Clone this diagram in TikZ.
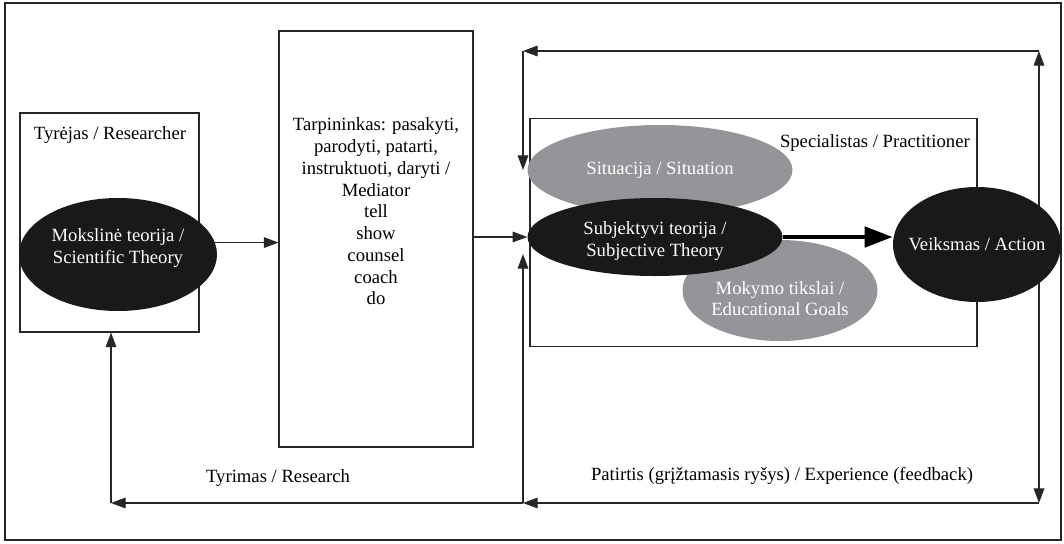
\documentclass[tikz,border=0pt]{standalone}
\usepackage{fontspec}
\setmainfont{Liberation Serif}
\usepackage{xcolor}
\usetikzlibrary{arrows.meta, positioning, shapes.geometric}
\definecolor{ellgray}{HTML}{939598}
\pgfdeclarelayer{background}
\pgfsetlayers{background,main}

\begin{document}
\begin{tikzpicture}[x=0.75pt, y=-0.75pt,
        every node/.style={font=\fontsize{14}{16.3}\selectfont, align=center, inner sep=0pt},
        box/.style={draw=black!85, line width=0.8pt, rectangle},
        darkell/.style={ellipse, fill=black!90},
        lightell/.style={ellipse, fill=ellgray},
        arr/.style={draw=black!85, line width=0.8pt, -{Triangle[length=11pt, width=8pt]}},
        bigarr/.style={draw=black, line width=3.4pt, -{Triangle[length=21pt, width=15pt]}}
        ]
    \useasboundingbox (0,0) rectangle (1064,543);
    \draw[black!85, line width=0.8pt] (5,3) rectangle (1061,540);

    \node[box, minimum width=134.25pt, minimum height=164.25pt] (res) at (109.5,222.5) {};
    \node (restxt) at (110,135) {Tyrėjas / Researcher};
    \node[darkell, minimum width=148.5pt, minimum height=84.75pt,
        label={[white, yshift=5pt]center:Mokslinė teorija /\\Scientific Theory}] (sci) at (118,254.5) {};

    \node[box, minimum width=145.5pt, minimum height=312pt] (med) at (376,239) {};
    \node (medtxt) at (376,211.5) {Tarpininkas: pasakyti,\\parodyti, patarti,\\instruktuoti, daryti /\\Mediator\\tell\\show\\counsel\\coach\\do};

    \node[box, minimum width=335.25pt, minimum height=171pt] (prac) at (753.5,232.5) {};
    \node[anchor=east] (practxt) at (970,143) {Specialistas / Practitioner};

    \node[lightell, minimum width=198.75pt, minimum height=67.5pt,
        label={[white]center:Situacija / Situation}] (sit) at (660,170) {};
    \node[lightell, minimum width=146.25pt, minimum height=75.75pt,
        label={[white, yshift=-6pt]center:Mokymo tikslai /\\Educational Goals}] (goals) at (780,290.5) {};
    \node[darkell, minimum width=191.25pt, minimum height=58.5pt,
        label={[white, yshift=-3pt]center:Subjektyvi teorija /\\Subjective Theory}] (subj) at (655,237) {};
    \node[darkell, minimum width=126pt, minimum height=86.25pt,
        label={[white]center:Veiksmas / Action}] (act) at (977,244.5) {};

    \coordinate (tr) at (1039,51);
    \coordinate (tl) at (523,51);
    \coordinate (br) at (1039,503);
    \coordinate (bm) at (523,503);
    \coordinate (bl) at (111,503);
    \coordinate (subjin) at (523,254);

    \draw[arr] (sci.7) -- (sci.7 -| med.west);
    \draw[arr] (med.east |- subj.west) -- (subj.west);
    \draw[bigarr] (subj.east) -- (subj.east -| act.west);
    \begin{pgfonlayer}{background}
        \draw[arr] (act.center -| tr) -- (tr);
        \draw[arr] (act.center -| br) -- (br);
    \end{pgfonlayer}
    \draw[arr] (tr) -- (tl);
    \draw[arr] (tl) -- (tl |- sit.west);
    \draw[arr] (br) -- (bm);
    \draw[arr] (bm) -- (bl);
    \draw[arr] (bl) -- (res.south -| bl);
    \draw[arr] (bm) -- (subjin);

    \node (reslbl) at (278,478) {Tyrimas / Research};
    \node (explbl) at (782,476) {Patirtis (grįžtamasis ryšys) / Experience (feedback)};
\end{tikzpicture}
\end{document}
